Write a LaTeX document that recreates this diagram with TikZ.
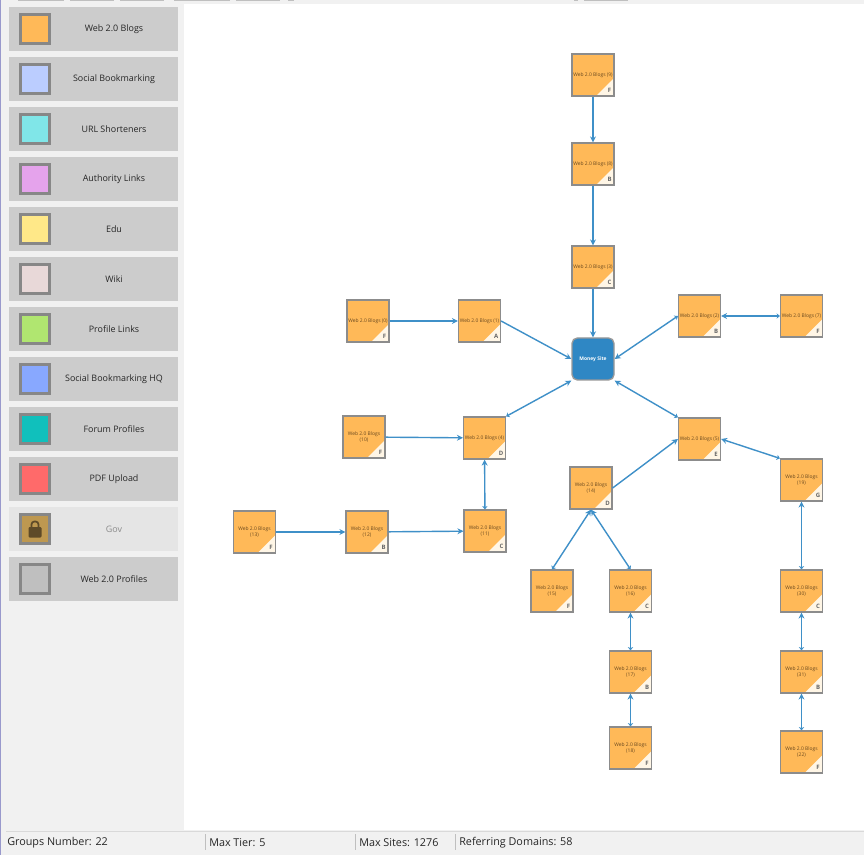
\documentclass[tikz,border=0pt]{standalone}
\usepackage{fontspec}
\setmainfont{Open Sans}
\usetikzlibrary{arrows.meta, positioning}

\begin{document}
\begin{tikzpicture}[
  x=0.75pt, y=-0.75pt,
  rowbox/.style={rectangle, fill=black!20, minimum width=126.75pt, minimum height=33pt, inner sep=0pt},
  swatch/.style={rectangle, draw=black!47, line width=2.25pt, minimum width=21.75pt, minimum height=21.75pt, inner sep=0pt},
  rowtext/.style={font=\fontsize{6.7pt}{8pt}\selectfont, text=black!85, align=center},
  blog/.style={rectangle, draw=black!45, line width=0.9pt, fill=blogfill, minimum width=31.5pt, minimum height=31.5pt,
               inner sep=0pt, align=center, text=blogtext, font=\fontsize{3.7pt}{4.8pt}\selectfont,
               path picture={\fill[cream] (path picture bounding box.south east) -- ++(-13.5pt,0) -- ++(13.5pt,13.5pt) -- cycle;}},
  tier/.style={font=\bfseries\fontsize{4.5pt}{5pt}\selectfont, text=black!60, inner sep=0pt},
  money/.style={rectangle, rounded corners=4pt, draw=black!40, line width=1pt, fill=moneyblue, minimum width=31.5pt,
                minimum height=31.5pt, inner sep=0pt, text=white, font=\bfseries\fontsize{3.7pt}{4.6pt}\selectfont},
  arr/.style={-{Stealth[length=4.5pt,width=4.5pt]}, line width=1.05pt, draw=linkblue},
  barr/.style={{Stealth[length=2.5pt,width=4pt]}-{Stealth[length=4.5pt,width=4.5pt]}, line width=1.05pt, draw=linkblue},
  stat/.style={font=\fontsize{8.1pt}{10pt}\selectfont, text=black!85, inner sep=0pt, anchor=west}
]
\definecolor{blogfill}{HTML}{FFB958}
\definecolor{blogtext}{HTML}{6B4A20}
\definecolor{cream}{HTML}{FFF6E6}
\definecolor{moneyblue}{HTML}{2F87C4}
\definecolor{linkblue}{HTML}{3F90C8}
\definecolor{panelgray}{HTML}{F1F1F1}
\definecolor{lockbrown}{HTML}{5E4A28}
\useasboundingbox (0,0) rectangle (864,855);

% --- Window background ---
\fill[panelgray] (0,0) rectangle (864,855);
\fill[white] (184,4) rectangle (864,830);
\fill[black!25] (18,0) rectangle (64,1);
\fill[black!25] (70,0) rectangle (114,1);
\fill[black!25] (120,0) rectangle (164,1);
\fill[black!25] (174,0) rectangle (230,1);
\fill[black!25] (236,0) rectangle (280,1);
\fill[black!25] (288,0) rectangle (294,1);
\fill[black!25] (574,0) rectangle (578,1);
\fill[black!25] (584,0) rectangle (628,1);
\fill[black!50!blue!40] (0,0) rectangle (1,855);
\draw[black!15] (6,831) -- (864,831);

% --- Palette ---
\node[rowbox] (row1) at (93.5,29) {};
\node[swatch, fill=blogfill] (sw1) at (35,29) {};
\node[rowtext] (txt1) at (114,29.5) {Web 2.0 Blogs};

\node[rowbox] (row2) at (93.5,79) {};
\node[swatch, fill={rgb,255:red,187;green,205;blue,255}] (sw2) at (35,79) {};
\node[rowtext] (txt2) at (114,79.5) {Social Bookmarking};

\node[rowbox] (row3) at (93.5,129) {};
\node[swatch, fill={rgb,255:red,128;green,230;blue,232}] (sw3) at (35,129) {};
\node[rowtext] (txt3) at (114,129.5) {URL Shorteners};

\node[rowbox] (row4) at (93.5,179) {};
\node[swatch, fill={rgb,255:red,229;green,163;blue,236}] (sw4) at (35,179) {};
\node[rowtext] (txt4) at (114,179.5) {Authority Links};

\node[rowbox] (row5) at (93.5,229) {};
\node[swatch, fill={rgb,255:red,255;green,232;blue,136}] (sw5) at (35,229) {};
\node[rowtext] (txt5) at (114,229.5) {Edu};

\node[rowbox] (row6) at (93.5,279) {};
\node[swatch, fill={rgb,255:red,232;green,216;blue,216}] (sw6) at (35,279) {};
\node[rowtext] (txt6) at (114,279.5) {Wiki};

\node[rowbox] (row7) at (93.5,329) {};
\node[swatch, fill={rgb,255:red,176;green,230;blue,112}] (sw7) at (35,329) {};
\node[rowtext] (txt7) at (114,329.5) {Profile Links};

\node[rowbox] (row8) at (93.5,379) {};
\node[swatch, fill={rgb,255:red,136;green,168;blue,255}] (sw8) at (35,379) {};
\node[rowtext] (txt8) at (114,379.5) {Social Bookmarking HQ};

\node[rowbox] (row9) at (93.5,429) {};
\node[swatch, fill={rgb,255:red,16;green,192;blue,188}] (sw9) at (35,429) {};
\node[rowtext] (txt9) at (114,429.5) {Forum Profiles};

\node[rowbox] (row10) at (93.5,479) {};
\node[swatch, fill={rgb,255:red,255;green,106;blue,106}] (sw10) at (35,479) {};
\node[rowtext] (txt10) at (114,479.5) {PDF Upload};

\node[rowbox, fill=black!10] (row11) at (93.5,529) {};
\node[swatch, fill={rgb,255:red,190;green,152;blue,80}] (sw11) at (35,529) {};
\node[rowtext, text=black!45] (txt11) at (114,529.5) {Gov};
% lock
\fill[lockbrown, rounded corners=0.8pt] (28.5,527) rectangle (41.5,537.5);
\draw[lockbrown, line width=1.3pt, rounded corners=2.2pt] (31.5,528) -- (31.5,521.5) -- (38.5,521.5) -- (38.5,528);

\node[rowbox] (row12) at (93.5,579) {};
\node[swatch, fill=black!25] (sw12) at (35,579) {};
\node[rowtext] (txt12) at (114,579.5) {Web 2.0 Profiles};

% --- Graph nodes ---
\node[money] (site) at (593,359) {Money Site};

\node[blog] (b9) at (593,75) {Web 2.0 Blogs (9)};
\node[blog] (b8) at (593,164) {Web 2.0 Blogs (8)};
\node[blog] (b3) at (593,267) {Web 2.0 Blogs (3)};
\node[blog] (b0) at (368,321) {Web 2.0 Blogs (0)};
\node[blog] (b1) at (479.5,321) {Web 2.0 Blogs (1)};
\node[blog] (b2) at (699.5,316) {Web 2.0 Blogs (2)};
\node[blog] (b7) at (801.5,316) {Web 2.0 Blogs (7)};
\node[blog] (b4) at (484.5,438) {Web 2.0 Blogs (4)};
\node[blog] (b5) at (699.5,439) {Web 2.0 Blogs (5)};
\node[blog] (b10) at (364,437) {Web 2.0 Blogs\\(10)};
\node[blog] (b14) at (591,488) {Web 2.0 Blogs\\(14)};
\node[blog] (b19) at (801.5,480) {Web 2.0 Blogs\\(19)};
\node[blog] (b13) at (254.5,532) {Web 2.0 Blogs\\(13)};
\node[blog] (b12) at (367,532) {Web 2.0 Blogs\\(12)};
\node[blog] (b11) at (485,531) {Web 2.0 Blogs\\(11)};
\node[blog] (b15) at (552,591) {Web 2.0 Blogs\\(15)};
\node[blog] (b16) at (630.5,591) {Web 2.0 Blogs\\(16)};
\node[blog] (b30) at (801.5,591) {Web 2.0 Blogs\\(30)};
\node[blog] (b17) at (630.5,672) {Web 2.0 Blogs\\(17)};
\node[blog] (b31) at (801.5,672) {Web 2.0 Blogs\\(31)};
\node[blog] (b18) at (630.5,748) {Web 2.0 Blogs\\(18)};
\node[blog] (b22) at (801.5,752) {Web 2.0 Blogs\\(22)};

% --- Tier letters ---
\node[tier] (t9) at ([xshift=-3.75pt,yshift=4.5pt]b9.south east) {F};
\node[tier] (t8) at ([xshift=-3.75pt,yshift=4.5pt]b8.south east) {B};
\node[tier] (t3) at ([xshift=-3.75pt,yshift=4.5pt]b3.south east) {C};
\node[tier] (t0) at ([xshift=-3.75pt,yshift=4.5pt]b0.south east) {F};
\node[tier] (t1) at ([xshift=-3.75pt,yshift=4.5pt]b1.south east) {A};
\node[tier] (t2) at ([xshift=-3.75pt,yshift=4.5pt]b2.south east) {B};
\node[tier] (t7) at ([xshift=-3.75pt,yshift=4.5pt]b7.south east) {F};
\node[tier] (t4) at ([xshift=-3.75pt,yshift=4.5pt]b4.south east) {D};
\node[tier] (t5) at ([xshift=-3.75pt,yshift=4.5pt]b5.south east) {E};
\node[tier] (t10) at ([xshift=-3.75pt,yshift=4.5pt]b10.south east) {F};
\node[tier] (t14) at ([xshift=-3.75pt,yshift=4.5pt]b14.south east) {D};
\node[tier] (t19) at ([xshift=-3.75pt,yshift=4.5pt]b19.south east) {G};
\node[tier] (t13) at ([xshift=-3.75pt,yshift=4.5pt]b13.south east) {F};
\node[tier] (t12) at ([xshift=-3.75pt,yshift=4.5pt]b12.south east) {B};
\node[tier] (t11) at ([xshift=-3.75pt,yshift=4.5pt]b11.south east) {C};
\node[tier] (t15) at ([xshift=-3.75pt,yshift=4.5pt]b15.south east) {F};
\node[tier] (t16) at ([xshift=-3.75pt,yshift=4.5pt]b16.south east) {C};
\node[tier] (t30) at ([xshift=-3.75pt,yshift=4.5pt]b30.south east) {C};
\node[tier] (t17) at ([xshift=-3.75pt,yshift=4.5pt]b17.south east) {B};
\node[tier] (t31) at ([xshift=-3.75pt,yshift=4.5pt]b31.south east) {B};
\node[tier] (t18) at ([xshift=-3.75pt,yshift=4.5pt]b18.south east) {F};
\node[tier] (t22) at ([xshift=-3.75pt,yshift=4.5pt]b22.south east) {F};

% --- Links ---
\draw[arr] (b9) -- (b8);
\draw[arr] (b8) -- (b3);
\draw[arr] (b3) -- (site);
\draw[arr] (b0) -- (b1);
\draw[arr] (b1.east) -- (site.west);
\draw[barr] (b7) -- (b2);
\draw[barr] (b2.west) -- (site.east);
\draw[barr] (b4.north east) -- (site.south west);
\draw[barr] (b5.north west) -- (site.south east);
\draw[arr] (b10) -- (b4);
\draw[barr] (b11) -- (b4);
\draw[arr] (b12) -- (b11);
\draw[arr] (b13) -- (b12);
\draw[arr] (b14.east) -- (b5.west);
\draw[barr] (b19.north west) -- (b5.east);
\draw[barr] (b15.north) -- (b14.south);
\draw[barr] (b16.north) -- (b14.south);
\draw[barr] (b17) -- (b16);
\draw[barr] (b18) -- (b17);
\draw[barr] (b30) -- (b19);
\draw[barr] (b31) -- (b30);
\draw[barr] (b22) -- (b31);

% --- Status bar ---
\node[stat] (groups) at (7,842.5) {Groups Number: 22};
\node[stat] (tiers) at (209,842.5) {Max Tier: 5};
\node[stat] (sites) at (359,842.5) {Max Sites: 1276};
\node[stat] (domains) at (459,842.5) {Referring Domains: 58};
\draw[black!25] (205.5,834) -- (205.5,850);
\draw[black!25] (355.5,834) -- (355.5,850);
\draw[black!25] (455.5,834) -- (455.5,850);

\end{tikzpicture}
\end{document}
